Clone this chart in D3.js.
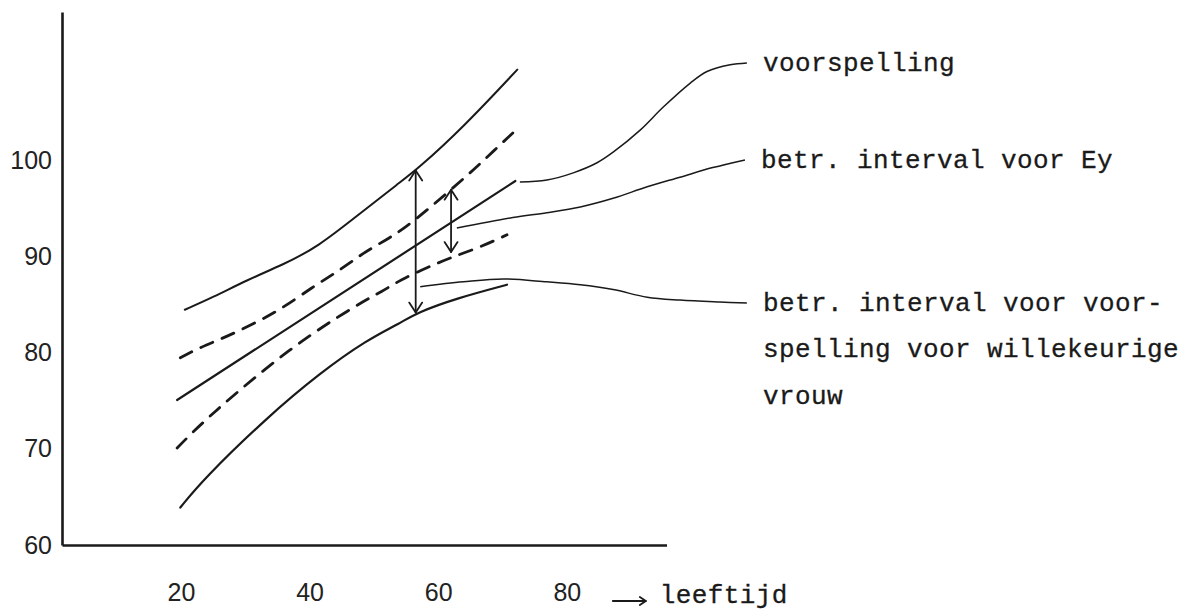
<!DOCTYPE html>
<html>
<head>
<meta charset="utf-8">
<script src="https://cdn.jsdelivr.net/npm/d3@7"></script>
<style>
  html, body { margin: 0; padding: 0; background: #fff; }
  svg { display: block; }
  .tick text { font-family: "Liberation Sans", Arial, sans-serif; font-size: 25px; fill: #222; }
  .lbl { font-family: "Liberation Mono", "Courier New", monospace; font-size: 26px; letter-spacing: 0.4px; fill: #1a1a1a; stroke: #1a1a1a; stroke-width: 0.3px; }
</style>
</head>
<body>
<div id="chart"></div>
<script>
var xTicks = [20, 40, 60, 80];
var yTicks = [60, 70, 80, 90, 100];

var centerAge = [19.4, 72.0];
var centerVal = [75.1, 97.9];

var upperOuterAge = [20.6, 25.0, 30.3, 35.9, 41.2, 47.8, 54.1, 56.7, 63.9, 72.3];
var upperOuterVal = [84.5, 85.8, 87.6, 89.2, 91.0, 94.5, 97.8, 99.1, 103.5, 109.5];

var lowerOuterAge = [19.9, 23.4, 33.4, 41.6, 48.9, 54.1, 56.7, 62.9, 70.7];
var lowerOuterVal = [63.9, 66.8, 73.3, 77.9, 81.35, 83.1, 84.2, 85.7, 87.1];

var upperDashAge = [19.9, 23.0, 27.2, 34.9, 40.5, 44.7, 48.3, 52.0, 54.8, 58.7, 65.0, 67.6, 71.6];
var upperDashVal = [79.5, 80.6, 81.7, 84.2, 86.9, 88.6, 90.4, 91.8, 93.0, 95.1, 98.75, 100.4, 102.9];

var lowerDashAge = [19.4, 24.1, 37.0, 47.8, 51.3, 54.1, 58.3, 62.2, 66.5, 70.7];
var lowerDashVal = [70.1, 73.3, 80.6, 85.2, 86.4, 87.6, 88.9, 90.0, 91.0, 92.3];

// dubbele pijlen: [leeftijd, boven, onder]
var bigArrow = [56.5, 99.0, 84.2];
var smallArrow = [62.0, 97.0, 90.5];

// verwijslijnen naar de teksten
var leadPredAge = [72.7, 76.9, 81.0, 84.7, 87.2, 91.4, 95.0, 99.2, 101.8, 105.4, 108.0];
var leadPredVal = [97.8, 98.0, 98.75, 99.8, 100.9, 103.2, 105.6, 108.1, 109.3, 110.0, 110.2];
var leadEyAge = [62.9, 71.6, 76.9, 82.1, 87.2, 92.5, 97.6, 102.7, 107.7];
var leadEyVal = [93.0, 94.1, 94.6, 95.2, 96.1, 97.3, 98.3, 99.3, 100.1];
var leadPiAge = [57.2, 63.9, 70.1, 76.9, 82.1, 87.2, 92.5, 97.6, 103.8, 108.0];
var leadPiVal = [86.9, 87.4, 87.7, 87.4, 87.1, 86.6, 85.8, 85.5, 85.3, 85.2];

var labelPred = ["voorspelling"];
var labelEy = ["betr. interval voor Ey"];
var labelPi = ["betr. interval voor voor-", "spelling voor willekeurige", "vrouw"];
var xTitle = "leeftijd";

var W = 1195, H = 610;
var ink = "#1a1a1a";

var svg = d3.select("#chart").append("svg").attr("width", W).attr("height", H);

var x = d3.scaleLinear().domain([1.5, 95.5]).range([62, 666.5]);
var y = d3.scaleLinear().domain([60, 115.5]).range([545, 12]);

// assen
var gx = svg.append("g").attr("transform", "translate(0," + y(60) + ")")
  .call(d3.axisBottom(x).tickValues(xTicks).tickSize(0).tickPadding(38).tickFormat(d3.format("d")));
var gy = svg.append("g").attr("transform", "translate(" + x(1.5) + ",0)")
  .call(d3.axisLeft(y).tickValues(yTicks).tickSize(0).tickPadding(10).tickFormat(d3.format("d")));
gx.select(".domain").attr("stroke", ink).attr("stroke-width", 2.6);
gy.select(".domain").attr("stroke", ink).attr("stroke-width", 2.6);

function pts(a, v) { return a.map(function(d, i) { return [d, v[i]]; }); }

var line = d3.line().x(function(d) { return x(d[0]); }).y(function(d) { return y(d[1]); })
  .curve(d3.curveBasis);

var curves = [
  { p: pts(centerAge, centerVal), dash: null, w: 2.2 },
  { p: pts(upperOuterAge, upperOuterVal), dash: null, w: 2.0 },
  { p: pts(lowerOuterAge, lowerOuterVal), dash: null, w: 2.2 },
  { p: pts(upperDashAge, upperDashVal), dash: "13,10", w: 2.8 },
  { p: pts(lowerDashAge, lowerDashVal), dash: "13,10", w: 2.8 }
];

svg.selectAll("path.curve").data(curves).enter().append("path")
  .attr("class", "curve")
  .attr("d", function(d) { return line(d.p); })
  .attr("fill", "none").attr("stroke", ink)
  .attr("stroke-width", function(d) { return d.w; })
  .attr("stroke-dasharray", function(d) { return d.dash; })
  .attr("stroke-linecap", "round");

var leaders = [
  { p: pts(leadPredAge, leadPredVal), txt: labelPred },
  { p: pts(leadEyAge, leadEyVal), txt: labelEy },
  { p: pts(leadPiAge, leadPiVal), txt: labelPi }
];

var leadLine = d3.line().x(function(d) { return x(d[0]); }).y(function(d) { return y(d[1]); })
  .curve(d3.curveCatmullRom);

leaders.forEach(function(l) {
  svg.append("path").attr("d", leadLine(l.p))
    .attr("fill", "none").attr("stroke", ink).attr("stroke-width", 1.5);
  var end = l.p[l.p.length - 1];
  var t = svg.append("text").attr("class", "lbl")
    .attr("x", x(end[0]) + 16).attr("y", y(end[1]) + 8);
  t.selectAll("tspan").data(l.txt).enter().append("tspan")
    .attr("x", x(end[0]) + 16)
    .attr("dy", function(d, i) { return i === 0 ? 0 : 46.5; })
    .text(function(d) { return d; });
});

// dubbele pijlen
function doubleArrow(a) {
  var px = x(a[0]), top = y(a[1]), bot = y(a[2]);
  var g = svg.append("g").attr("fill", "none").attr("stroke", ink).attr("stroke-width", 1.8)
    .attr("stroke-linejoin", "round").attr("stroke-linecap", "round");
  g.append("line").attr("x1", px).attr("x2", px).attr("y1", top).attr("y2", bot);
  g.append("path").attr("d", "M" + (px - 6.5) + "," + (top + 10) + "L" + px + "," + top + "L" + (px + 6.5) + "," + (top + 10));
  g.append("path").attr("d", "M" + (px - 6.5) + "," + (bot - 10) + "L" + px + "," + bot + "L" + (px + 6.5) + "," + (bot - 10));
}
doubleArrow(bigArrow);
doubleArrow(smallArrow);

// as-titel met pijl
var ax0 = x(xTicks[3]) + 46, ay = 601;
var ga = svg.append("g").attr("fill", "none").attr("stroke", ink).attr("stroke-width", 1.8)
  .attr("stroke-linecap", "round").attr("stroke-linejoin", "round");
ga.append("line").attr("x1", ax0).attr("x2", ax0 + 33).attr("y1", ay).attr("y2", ay);
ga.append("path").attr("d", "M" + (ax0 + 27) + "," + (ay - 4) + "L" + (ax0 + 33) + "," + ay + "L" + (ax0 + 27) + "," + (ay + 4));
svg.append("text").attr("class", "lbl").attr("x", x(xTicks[3]) + 93).attr("y", 603)
  .text(xTitle);
</script>
</body>
</html>
